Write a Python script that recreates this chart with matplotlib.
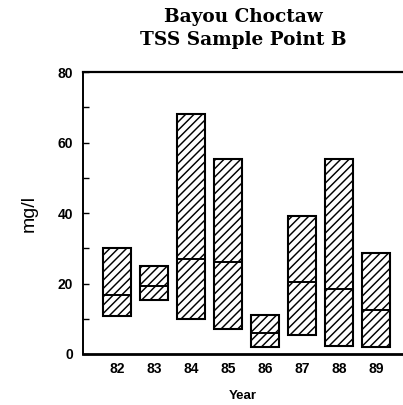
import matplotlib
matplotlib.use("Agg")
import matplotlib.pyplot as plt
import numpy as np

years = ["82", "83", "84", "85", "86", "87", "88", "89"]
mins = [10.9, 15.3, 9.9, 7.0, 1.9, 5.3, 2.3, 1.9]
maxs = [30.2, 25.0, 68.2, 55.3, 11.1, 39.1, 55.2, 28.7]
medians = [16.7, 19.4, 26.9, 26.0, 5.9, 20.5, 18.3, 12.4]

plt.rcParams['hatch.linewidth'] = 1.05
fig = plt.figure(figsize=(4.03, 4.05), dpi=100)
ax = fig.add_axes([0.205, 0.126, 0.795, 0.696])

x = np.arange(len(years))
w = 0.76
heights = [mx - mn for mx, mn in zip(maxs, mins)]
ax.bar(x, heights, bottom=mins, width=w, facecolor='white', edgecolor='black',
       linewidth=1.5, hatch='////')
ax.hlines(medians, x - w / 2, x + w / 2, colors='black', linewidth=1.4)

ax.set_xlim(-0.94, 7.72)
ax.set_ylim(0, 80)
ax.set_yticks([0, 20, 40, 60, 80])
ax.set_yticks([10, 30, 50, 70], minor=True)
ax.set_xticks(x)
ax.set_xticklabels(years)

ax.spines['right'].set_visible(False)
ax.spines['bottom'].set_linewidth(2.0)
ax.spines['top'].set_linewidth(1.6)
ax.spines['left'].set_linewidth(1.4)

ax.tick_params(axis='y', which='both', direction='in', length=4, width=1, pad=7)
ax.tick_params(axis='x', which='both', length=0, pad=6)
for lab in ax.get_xticklabels() + ax.get_yticklabels():
    lab.set_fontfamily('Liberation Sans')
    lab.set_fontweight('bold')
    lab.set_fontsize(10)

ax.set_ylabel('mg/l', fontfamily='Liberation Sans', fontsize=14, labelpad=14)
ax.set_xlabel('Year', fontfamily='Liberation Sans', fontweight='bold', fontsize=9.5, labelpad=10)

fig.text(0.603, 0.958, 'Bayou Choctaw', ha='center', va='center',
         fontfamily='DejaVu Serif', fontweight='bold', fontsize=13.3)
fig.text(0.603, 0.901, 'TSS Sample Point B', ha='center', va='center',
         fontfamily='DejaVu Serif', fontweight='bold', fontsize=13.3)

fig.savefig('out.png', dpi=100)
